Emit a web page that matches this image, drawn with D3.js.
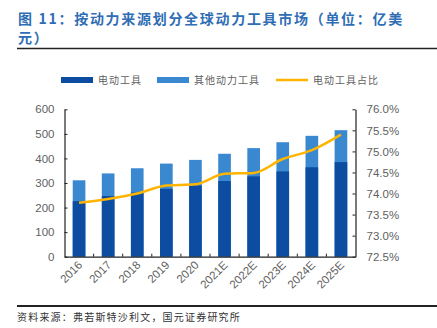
<!DOCTYPE html>
<html><head><meta charset="utf-8">
<script src="https://cdn.jsdelivr.net/npm/d3@7"></script>
<style>html,body{margin:0;padding:0;background:#fff;}svg{display:block;}</style>
</head><body>
<svg id="c" width="437" height="328"></svg>
<script>
const categories = ["2016","2017","2018","2019","2020","2021E","2022E","2023E","2024E","2025E"];
const electric = [226,247,261,276,290,308,327,347,364,385];
const total = [311,339,360,379,394,419,442,466,492,515];
const share = [73.78,73.87,74.0,74.19,74.22,74.47,74.49,74.82,75.03,75.40];
const leftTicks = [0,100,200,300,400,500,600];
const rightTicks = [72.5,73.0,73.5,74.0,74.5,75.0,75.5,76.0];
const seriesNames = ["电动工具","其他动力工具","电动工具占比"];
const titleLines = ["图 11：按动力来源划分全球动力工具市场（单位：亿美","元）"];
const sourceText = "资料来源：弗若斯特沙利文，国元证券研究所";

const svg = d3.select("#c");
const cjk = "'Noto Sans CJK SC', sans-serif";
const num = "'Liberation Sans', Arial, sans-serif";
const C_DARK = "#0C4DA2", C_LIGHT = "#3A88D0", C_LINE = "#FFB400", C_TXT = "#5f5f5f";

// Title
svg.selectAll("text.title").data(titleLines).join("text")
  .attr("x", 18).attr("y", (d,i) => 24 + i*19)
  .attr("font-family", cjk).attr("font-size", 14).attr("font-weight", "bold")
  .attr("letter-spacing", 1.7).attr("fill", "#2F6DB5").text(d => d);
svg.append("line").attr("x1",17).attr("x2",437).attr("y1",48.5).attr("y2",48.5).attr("stroke","#222").attr("stroke-width",1.5);
svg.append("line").attr("x1",17).attr("x2",437).attr("y1",306).attr("y2",306).attr("stroke","#222").attr("stroke-width",2);
svg.append("text").attr("x",17).attr("y",321).attr("font-family",cjk).attr("font-size",10)
  .attr("letter-spacing",1.2).attr("fill","#333").text(sourceText);

const L = 64.5, R = 355.5, T = 109.3, B = 256.7;
const x = d3.scaleBand().domain(categories).range([L,R]).paddingInner(0.565).paddingOuter(0.2825);
const xb = d3.scaleBand().domain(categories).range([L,R]);
const yL = d3.scaleLinear().domain([0,600]).range([B,T]);
const yR = d3.scaleLinear().domain([72.5,76]).range([B,T]);

// Bars
svg.append("g").selectAll("rect").data(categories).join("rect")
  .attr("x", d => x(d)).attr("width", x.bandwidth())
  .attr("y", (d,i) => yL(total[i])).attr("height", (d,i) => yL(0) - yL(total[i]))
  .attr("fill", C_LIGHT);
svg.append("g").selectAll("rect").data(categories).join("rect")
  .attr("x", d => x(d)).attr("width", x.bandwidth())
  .attr("y", (d,i) => yL(electric[i])).attr("height", (d,i) => yL(0) - yL(electric[i]))
  .attr("fill", C_DARK);

// Line
const line = d3.line().x((d,i) => x(categories[i]) + x.bandwidth()/2).y(d => yR(d)).curve(d3.curveMonotoneX);
svg.append("path").datum(share).attr("d", line).attr("fill","none").attr("stroke",C_LINE).attr("stroke-width",2.5);

// Axes
const gl = svg.append("g").attr("transform",`translate(${L},0)`)
  .call(d3.axisLeft(yL).tickValues(leftTicks).tickSize(-3).tickPadding(10).tickSizeOuter(0));
const gr = svg.append("g").attr("transform",`translate(${R},0)`)
  .call(d3.axisRight(yR).tickValues(rightTicks).tickSize(-3).tickPadding(11).tickSizeOuter(0).tickFormat(d => d.toFixed(1)+"%"));
const gb = svg.append("g").attr("transform",`translate(0,${B})`)
  .call(d3.axisBottom(xb).tickSize(0).tickSizeOuter(0).tickFormat(""));
// boundary ticks on x axis
svg.append("g").selectAll("line").data(categories.slice(1)).join("line")
  .attr("x1", d => xb(d)).attr("x2", d => xb(d)).attr("y1", B).attr("y2", B-3)
  .attr("stroke","#222");
[gl,gr,gb].forEach(g => {
  g.selectAll("path.domain").attr("stroke","#222").attr("stroke-width",1.2);
  g.selectAll(".tick line").attr("stroke","#222");
  g.selectAll("text").attr("font-family",num).attr("font-size",11.5).attr("fill",C_TXT);
});
// rotated x labels
svg.append("g").selectAll("text").data(categories).join("text")
  .attr("transform", d => `translate(${x(d)+x.bandwidth()/2+4},${B+9}) rotate(-45)`)
  .attr("text-anchor","end").attr("font-family",num).attr("font-size",11.5).attr("fill",C_TXT)
  .text(d => d);

// Legend
const lg = svg.append("g");
const items = [
  {name: seriesNames[0], x: 61, type: "rect", color: C_DARK},
  {name: seriesNames[1], x: 157, type: "rect", color: C_LIGHT},
  {name: seriesNames[2], x: 276, type: "line", color: C_LINE}
];
items.forEach(it => {
  if (it.type === "rect") lg.append("rect").attr("x", it.x).attr("y", 77).attr("width", 32).attr("height", 6).attr("fill", it.color);
  else lg.append("line").attr("x1", it.x).attr("x2", it.x+32).attr("y1", 80).attr("y2", 80).attr("stroke", it.color).attr("stroke-width", 2.5);
  lg.append("text").attr("x", it.x+37).attr("y", 84).attr("font-family", cjk).attr("font-size", 10)
    .attr("letter-spacing", 1).attr("fill", C_TXT).text(it.name);
});
</script>
</body></html>
